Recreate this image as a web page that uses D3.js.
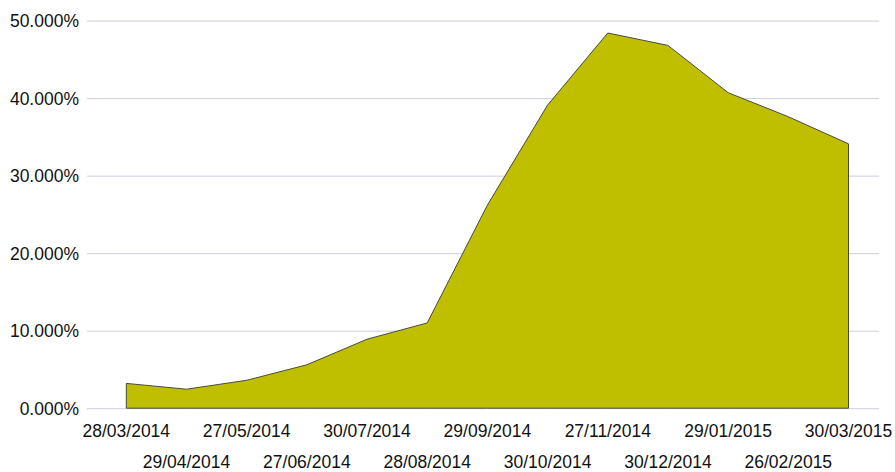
<!DOCTYPE html>
<html><head><meta charset="utf-8">
<script src="https://cdn.jsdelivr.net/npm/d3@7"></script>
<style>html,body{margin:0;padding:0;background:#fff;}svg{display:block;}</style>
</head><body>
<svg id="c" width="895" height="472"></svg>
<script>
const dates = ["28/03/2014","29/04/2014","27/05/2014","27/06/2014","30/07/2014","28/08/2014","29/09/2014","30/10/2014","27/11/2014","30/12/2014","29/01/2015","26/02/2015","30/03/2015"];
const values = [3.2, 2.45, 3.6, 5.6, 8.9, 11.0, 26.2, 39.1, 48.4, 46.8, 40.7, 37.6, 34.1];
const yTicks = [0, 10, 20, 30, 40, 50];

const svg = d3.select("#c");
const font = "'Liberation Sans', Arial, sans-serif";
const x = d3.scalePoint().domain(dates).range([126.3, 848.5]);
const y = d3.scaleLinear().domain([0, 50]).range([408.2, 20.6]);

// gridlines
const yAxis = d3.axisLeft(y).tickValues(yTicks).tickSize(-(879 - 87)).tickPadding(8)
  .tickFormat(d => d.toFixed(3) + "%");
const gy = svg.append("g").attr("transform", "translate(87,0)").call(yAxis);
gy.select(".domain").remove();
gy.selectAll(".tick line").attr("stroke", "#cfcde0").attr("stroke-width", 1);
gy.selectAll(".tick text").attr("fill", "#111").attr("font-family", font).attr("font-size", "17.5px")
  .attr("x", -8).attr("dy", "0.36em");

// area
const area = d3.area().x((d, i) => x(dates[i])).y0(y(0)).y1(d => y(d));
svg.append("path").datum(values).attr("d", area)
  .attr("fill", "#bfbf00").attr("stroke", "#4a4a3a").attr("stroke-width", 1).attr("stroke-linejoin", "round");

// x axis labels (alternating rows)
const xAxis = d3.axisBottom(x).tickSize(0).tickPadding(0);
const gx = svg.append("g").attr("transform", "translate(0,0)").call(xAxis);
gx.select(".domain").remove();
gx.selectAll(".tick").attr("transform", d => `translate(${x(d)},0)`);
gx.selectAll(".tick text")
  .attr("fill", "#111").attr("font-family", font).attr("font-size", "17.5px")
  .attr("dy", null)
  .attr("y", (d, i) => i % 2 === 0 ? 437 : 468);
</script>
</body></html>
